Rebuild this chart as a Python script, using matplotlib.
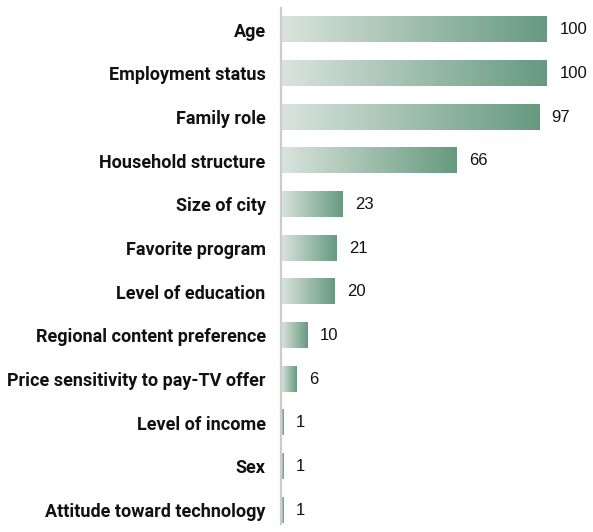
import numpy as np
import matplotlib.pyplot as plt
from matplotlib.colors import LinearSegmentedColormap

labels = ["Age", "Employment status", "Family role", "Household structure",
          "Size of city", "Favorite program", "Level of education",
          "Regional content preference", "Price sensitivity to pay-TV offer",
          "Level of income", "Sex", "Attitude toward technology"]
values = [100, 100, 97, 66, 23, 21, 20, 10, 6, 1, 1, 1]

plt.rcParams['font.family'] = ['Roboto', 'DejaVu Sans']

cmap = LinearSegmentedColormap.from_list("bar", ["#dae4dd", "#669a80"])
grad = np.linspace(0, 1, 256).reshape(1, -1)

fig = plt.figure(figsize=(5.93, 5.32), dpi=100)
W, H = 593, 532
ax = fig.add_axes([281 / W, 8 / H, (W - 281) / W, (524 - 8) / H])

bar_h = 0.58
for i, (lab, v) in enumerate(zip(labels, values)):
    ax.imshow(grad, cmap=cmap, aspect='auto',
              extent=[0, v, i + bar_h / 2, i - bar_h / 2], zorder=2)
    ax.annotate(str(v), (v, i), xytext=(9, 0), textcoords='offset points',
                va='center', ha='left', fontsize=12, color='#111111',
                family='Liberation Sans')

ax.set_xlim(0, (W - 281) / 2.66)
ax.set_ylim(len(labels) - 1 + 0.32, -0.5)
ax.set_yticks(range(len(labels)))
ax.set_yticklabels(labels, fontsize=13, fontweight='bold', color='#111111')
ax.tick_params(axis='y', length=0, pad=11)
ax.set_xticks([])
for s in ['top', 'right', 'bottom']:
    ax.spines[s].set_visible(False)
ax.spines['left'].set_color('#cccccc')
ax.spines['left'].set_linewidth(1.6)
ax.spines['left'].set_zorder(3)

fig.savefig("out.png", dpi=100)
